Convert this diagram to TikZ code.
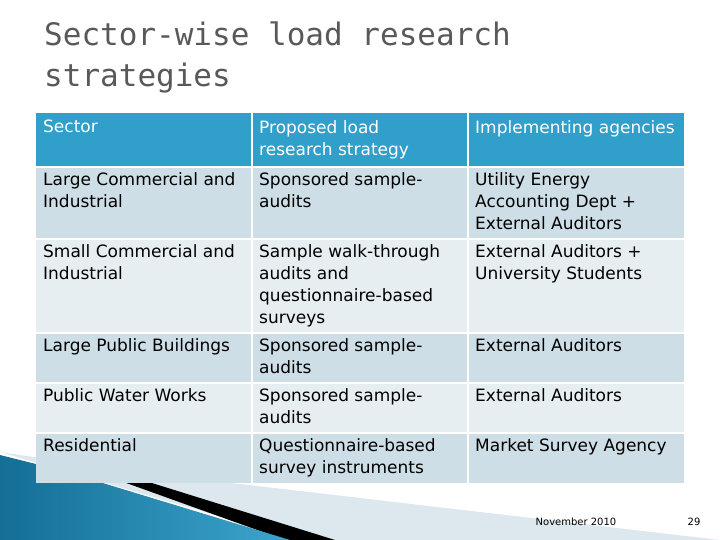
\documentclass[tikz,border=0pt]{standalone}
\usepackage{fontspec}
\setmainfont{DejaVu Sans}
\newfontfamily\titlefont{DejaVu Sans Mono}
\begin{document}
\begin{tikzpicture}[x=1pt,y=-1pt,
  cell/.style={anchor=north west,align=left,inner sep=0pt,font=\fontsize{17}{22}\selectfont,text=black},
  hcell/.style={cell,text=white}]
\useasboundingbox (0,0) rectangle (720,540);
\definecolor{hdr}{RGB}{48,160,202}
\definecolor{rowA}{RGB}{205,222,230}
\definecolor{rowB}{RGB}{231,238,242}
\definecolor{deco}{RGB}{60,165,205}
\definecolor{decoD}{RGB}{20,110,150}
% decoration
\fill[rowA!70] (0,452) -- (120,470) -- (720,540) -- (300,540) -- cycle;
\fill[black] (40,452) -- (110,470) -- (335,540) -- (285,540) -- cycle;
\shade[left color=decoD,right color=deco] (0,455) -- (60,470) -- (290,540) -- (0,540) -- cycle;
% title
\node[anchor=north west,inner sep=0pt,text=gray!70!black,font=\titlefont\fontsize{31}{41}\selectfont,align=left] (title) at (44,22) {Sector-wise load research\\strategies};
% table rows
\def\xa{36}\def\xb{252}\def\xc{468}\def\xd{684}
\fill[hdr] (\xa,113) rectangle (\xd,167);
\fill[rowA] (\xa,167) rectangle (\xd,239);
\fill[rowB] (\xa,239) rectangle (\xd,333);
\fill[rowA] (\xa,333) rectangle (\xd,383);
\fill[rowB] (\xa,383) rectangle (\xd,433);
\fill[rowA] (\xa,433) rectangle (\xd,483);
\foreach \y in {167,239,333,383,433} \draw[white,line width=1.5pt] (\xa,\y) -- (\xd,\y);
\draw[white,line width=1.5pt] (\xb,113) -- (\xb,483) (\xc,113) -- (\xc,483);
% header
\node[hcell] (h1) at (43,120) {Sector};
\node[hcell] (h2) at (259,120) {Proposed load\\research strategy};
\node[hcell] (h3) at (475,120) {Implementing agencies};
% rows
\node[cell] (a1) at (43,172) {Large Commercial and\\Industrial};
\node[cell] (a2) at (259,172) {Sponsored sample-\\audits};
\node[cell] (a3) at (475,172) {Utility Energy\\Accounting Dept +\\External Auditors};
\node[cell] (b1) at (43,244) {Small Commercial and\\Industrial};
\node[cell] (b2) at (259,244) {Sample walk-through\\audits and\\questionnaire-based\\surveys};
\node[cell] (b3) at (475,244) {External Auditors +\\University Students};
\node[cell] (c1) at (43,338) {Large Public Buildings};
\node[cell] (c2) at (259,338) {Sponsored sample-\\audits};
\node[cell] (c3) at (475,338) {External Auditors};
\node[cell] (d1) at (43,388) {Public Water Works};
\node[cell] (d2) at (259,388) {Sponsored sample-\\audits};
\node[cell] (d3) at (475,388) {External Auditors};
\node[cell] (e1) at (43,438) {Residential};
\node[cell] (e2) at (259,438) {Questionnaire-based\\survey instruments};
\node[cell] (e3) at (475,438) {Market Survey Agency};
% footer
\node[inner sep=0pt,font=\fontsize{10}{12}\selectfont] (date) at (576,522) {November 2010};
\node[inner sep=0pt,font=\fontsize{10}{12}\selectfont] (pg) at (694,522) {29};
\end{tikzpicture}
\end{document}
